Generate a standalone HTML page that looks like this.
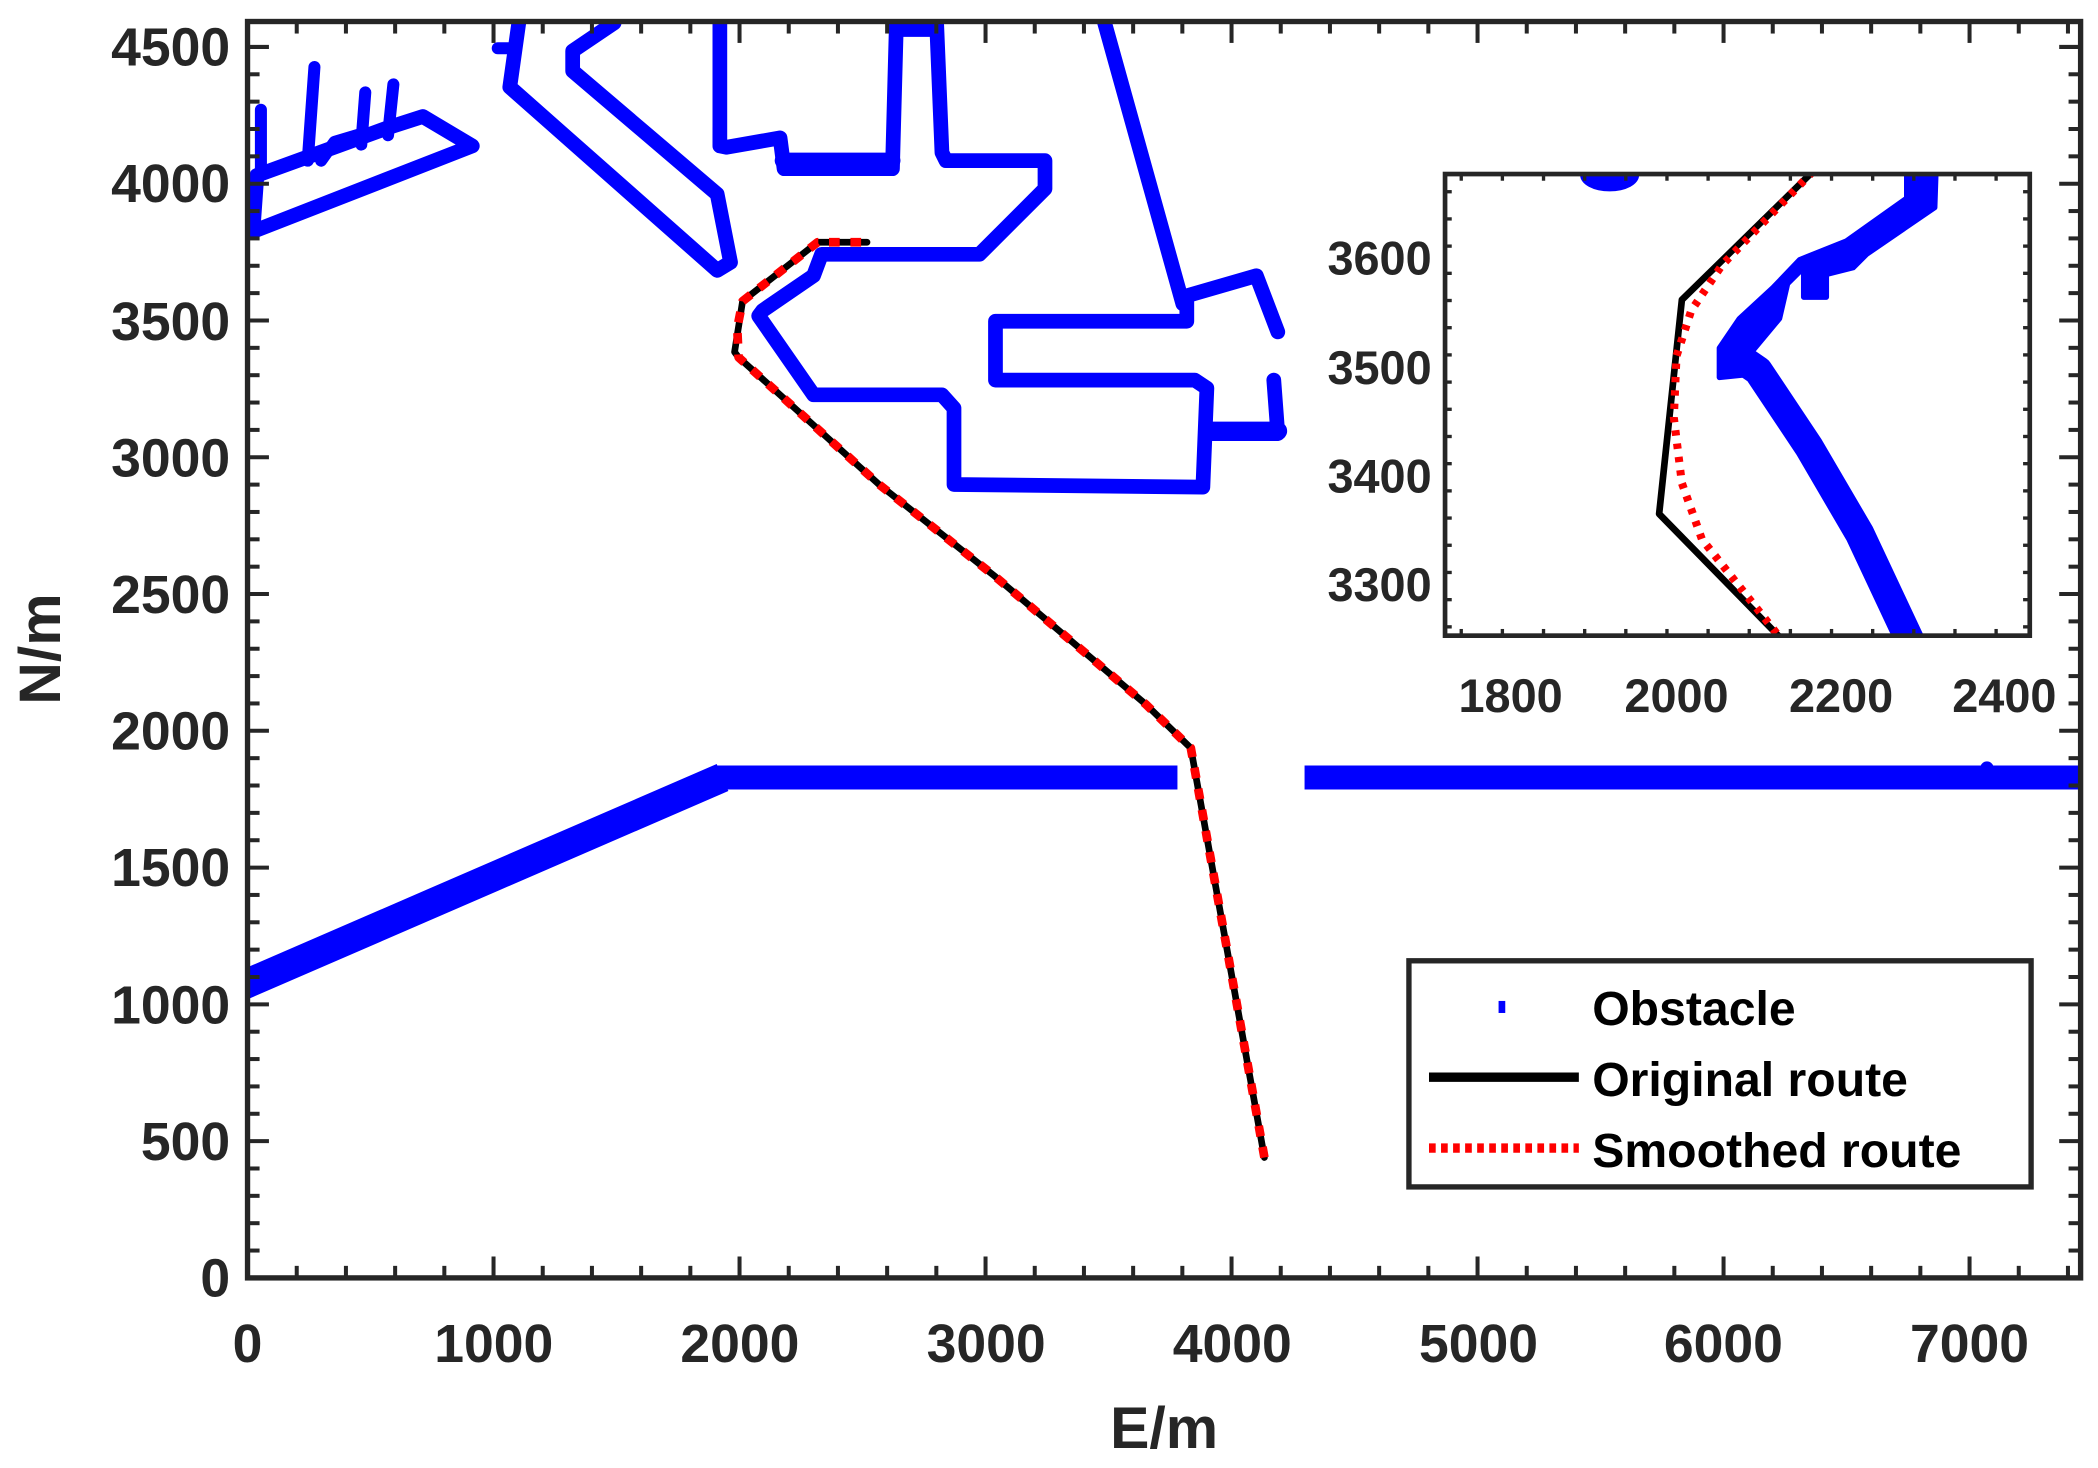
<!DOCTYPE html>
<html><head><meta charset="utf-8"><style>html,body{margin:0;padding:0;background:#fff}svg{display:block}</style></head>
<body>
<svg id="s" width="2098" height="1468" viewBox="0 0 1568 1097" xmlns="http://www.w3.org/2000/svg" font-family="Liberation Sans, Arial, sans-serif" font-weight="bold">
<rect width="1568" height="1097" fill="#fff"/>
<defs>
<clipPath id="mc"><rect x="185" y="16" width="1370" height="939"/></clipPath>
<clipPath id="ic"><rect x="1080" y="130" width="437" height="345"/></clipPath>
</defs>
<g clip-path="url(#mc)" fill="none" stroke="#0000ff" stroke-linejoin="round" stroke-linecap="round">
<polyline stroke-width="11" points="189,173 353,109 316,87 291,95 192,131 189,173"/>
<polyline stroke-width="9" points="195,131 195,82"/>
<polyline stroke-width="9" points="230,120 235,50"/>
<polyline stroke-width="9" points="270,108 273,69"/>
<polyline stroke-width="9" points="290,101 294,63"/>
<polyline stroke-width="9" points="240,120 250,106 270,100"/>
<polyline stroke-width="11" points="388,15 381,65 536,202 546,196 536,145 428,53 428,38 459,17"/>
<polyline stroke-width="9" points="372,36 384,36"/>
<polyline stroke-width="11" points="538,15 538,109 543,110 583,103 586,126 667,126 670,15"/>
<polyline stroke-width="11" points="670,22 700,22"/>
<polyline stroke-width="11" points="700,17 704,114 707,120 781,120 781,141 732,190 614,190 608,206 570,232 567,236 608,295 704,295 713,305 713,362 899,364 902,290 893,284 744,284 744,240 887,240 887,221 939,206 955,248"/>
<polyline stroke-width="11" points="825,15 884,227"/>
<polyline stroke-width="11" points="952,284 955,324 902,324"/>
<polyline stroke-width="14" points="905,322 955,322"/>
<polyline stroke-width="12" points="585,120 667,120"/>
<polyline stroke-width="22" stroke-linecap="butt" points="180,737 540,581"/>
<polyline stroke-width="18" stroke-linecap="butt" points="535,581 880,581"/>
<polyline stroke-width="18" stroke-linecap="butt" points="975,581 1560,581"/>
<circle cx="1485" cy="574" r="5" fill="#0000ff" stroke="none"/>
<polyline stroke="#000" stroke-width="5" points="945,865 890,559 856,526 744,431 657,362 552,267 549,263 555,225 611,181 648,181"/>
<polyline stroke="#ff0000" stroke-width="6.5" stroke-dasharray="8 8" stroke-linecap="butt" points="945,865 890,559 856,526 744,431 657,362 552,267 551,245 555,225 611,181 648,181"/>
</g>
<rect x="185" y="16" width="1370" height="939" fill="none" stroke="#262626" stroke-width="4"/>
<g id="ticks" stroke="#262626" stroke-width="3"></g>
<g fill="#262626" font-size="40" text-anchor="end">
<text x="172" y="969">0</text><text x="172" y="867">500</text><text x="172" y="765">1000</text><text x="172" y="662">1500</text><text x="172" y="560">2000</text><text x="172" y="458">2500</text><text x="172" y="356">3000</text><text x="172" y="254">3500</text><text x="172" y="151">4000</text><text x="172" y="49">4500</text>
</g>
<g fill="#262626" font-size="40" text-anchor="middle">
<text x="185" y="1018">0</text><text x="369" y="1018">1000</text><text x="553" y="1018">2000</text><text x="737" y="1018">3000</text><text x="921" y="1018">4000</text><text x="1105" y="1018">5000</text><text x="1288" y="1018">6000</text><text x="1472" y="1018">7000</text>
</g>
<text x="870" y="1082" font-size="44" fill="#262626" text-anchor="middle">E/m</text>
<text transform="translate(45,485) rotate(-90)" font-size="44" fill="#262626" text-anchor="middle">N/m</text>
<rect x="1080" y="130" width="437" height="345" fill="#fff" stroke="none"/>
<g clip-path="url(#ic)" fill="none" stroke-linejoin="round" stroke-linecap="round">
<ellipse cx="1203" cy="131" rx="22" ry="12" fill="#0000ff"/>
<polygon fill="#0000ff" stroke="#0000ff" stroke-width="4" points="1425,125 1447,125 1446,155 1395,190 1385,200 1365,205 1365,222 1348,222 1348,200 1336,212 1330,238 1310,262 1305,280 1285,282 1285,260 1300,238 1325,215 1345,194 1380,180 1425,148"/>
<polyline stroke="#0000ff" stroke-width="22" points="1298,266 1314,277 1352,334 1390,399 1428,480"/>
<polyline stroke="#000" stroke-width="5" points="1355,128 1257,224 1240,384 1330,476"/>
<polyline stroke="#ff0000" stroke-width="6" stroke-dasharray="4 6" stroke-linecap="butt" points="1355,128 1287,198 1264,232 1253,266 1251,312 1257,361 1272,403 1330,476"/>
</g>
<rect x="1080" y="130" width="437" height="345" fill="none" stroke="#262626" stroke-width="3.5"/>
<g id="iticks" stroke="#262626" stroke-width="2.5"></g>
<g fill="#262626" font-size="35" text-anchor="end">
<text x="1070" y="205">3600</text><text x="1070" y="287">3500</text><text x="1070" y="368">3400</text><text x="1070" y="449">3300</text>
</g>
<g fill="#262626" font-size="35" text-anchor="middle">
<text x="1129" y="532">1800</text><text x="1253" y="532">2000</text><text x="1376" y="532">2200</text><text x="1498" y="532">2400</text>
</g>
<rect x="1053" y="718" width="465" height="169" fill="#fff" stroke="#262626" stroke-width="4"/>
<rect x="1120" y="748" width="5" height="9" fill="#0000ff"/>
<line x1="1068" y1="805" x2="1180" y2="805" stroke="#000" stroke-width="7"/>
<line x1="1068" y1="858" x2="1180" y2="858" stroke="#ff0000" stroke-width="7" stroke-dasharray="5 4"/>
<g font-size="36" fill="#000">
<text x="1190" y="766">Obstacle</text><text x="1190" y="819">Original route</text><text x="1190" y="872">Smoothed route</text>
</g>
</svg>
<script>
(function(){
var ns="http://www.w3.org/2000/svg";
function L(g,x1,y1,x2,y2){var l=document.createElementNS(ns,"line");l.setAttribute("x1",x1);l.setAttribute("y1",y1);l.setAttribute("x2",x2);l.setAttribute("y2",y2);g.appendChild(l);}
var g=document.getElementById("ticks");
var sx=1287/7000, sy=920/4500;
for(var v=0;v<=7400;v+=200){var x=185+v*sx,len=(v%1000==0)?16:9;L(g,x,955,x,955-len);L(g,x,16,x,16+len);}
for(var v=0;v<=4500;v+=100){var y=955-v*sy,len=(v%500==0)?16:9;L(g,185,y,185+len,y);L(g,1555,y,1555-len,y);}
var ig=document.getElementById("iticks");
var isx=0.615, isy=0.813;
for(var v=1740;v<=2420;v+=50){var x=1129+(v-1800)*isx,len=(v%200==0)?9:5;L(ig,x,475,x,475-len);L(ig,x,130,x,130+len);}
for(var v=3260;v<=3670;v+=25){var y=192+(3600-v)*isy,len=(v%100==0)?9:5;L(ig,1080,y,1080+len,y);L(ig,1517,y,1517-len,y);}
})();
</script>
</body></html>
